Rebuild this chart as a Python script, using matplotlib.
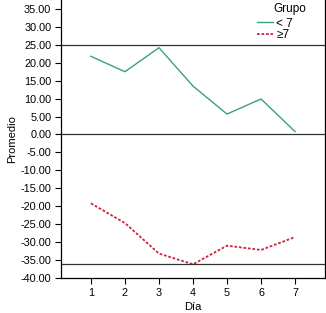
import matplotlib
matplotlib.use('Agg')
import matplotlib.pyplot as plt

# data
dias = [1, 2, 3, 4, 5, 6, 7]
grupo_menor7 = [21.8, 17.5, 24.2, 13.5, 5.7, 9.9, 0.8]
grupo_mayor7 = [-19.2, -24.7, -33.2, -36.2, -31.0, -32.2, -28.6]
yticks = [35, 30, 25, 20, 15, 10, 5, 0, -5, -10, -15, -20, -25, -30, -35, -40]

plt.rcParams['font.family'] = ['Liberation Sans', 'DejaVu Sans']

fig = plt.figure(figsize=(3.26, 3.13), dpi=100)
ax = fig.add_axes([0.187, 0.112, 0.81, 0.888])

ax.plot(dias, grupo_menor7, color='#3ba07e', linewidth=1.0, label='< 7')
ax.plot(dias, grupo_mayor7, color='#cc2240', linewidth=1.3, linestyle=(0, (1.5, 1)), label='\u22657')

ax.axhline(25, color='#333333', linewidth=0.9)
ax.axhline(0, color='#333333', linewidth=0.9)
ax.axhline(-36, color='#333333', linewidth=0.9)

ax.set_xlim(0.12, 7.88)
ax.set_ylim(-40, 37.5)
ax.set_xticks(dias)
ax.set_yticks(yticks)
ax.set_yticklabels([f'{v:.2f}' for v in yticks])
ax.tick_params(labelsize=7.8, length=4, width=0.8, direction='out', pad=3)
ax.spines['top'].set_visible(False)
for s in ['left', 'bottom', 'right']:
    ax.spines[s].set_linewidth(0.9)

ax.set_xlabel('D\u00eda', fontsize=8, labelpad=3)
ax.set_ylabel('Promedio', fontsize=8, labelpad=2)

# legend title drawn separately so it lines up with the entry labels
ax.text(0.803, 0.966, 'Grupo', transform=ax.transAxes, fontsize=8.5,
        ha='left', va='center')
leg = ax.legend(loc='upper left', bbox_to_anchor=(0.742, 0.937),
                frameon=False, fontsize=8.5,
                handlelength=1.35, handletextpad=0.3, labelspacing=-0.05,
                borderpad=0.0, borderaxespad=0.0)

fig.savefig('out.png', dpi=100)
